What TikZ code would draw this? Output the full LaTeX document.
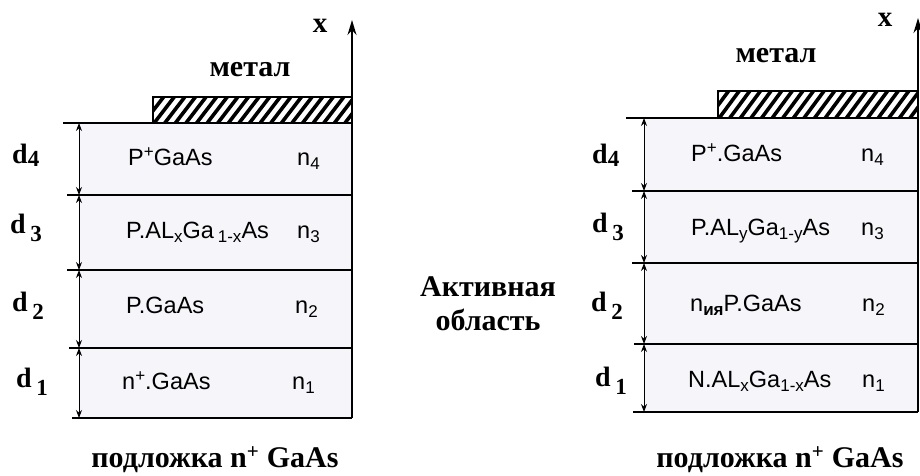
\documentclass[tikz,border=0pt]{standalone}
\usepackage{fontspec}
\setmainfont{Liberation Serif}
\newfontfamily\arial{Liberation Sans}
\usetikzlibrary{arrows.meta}
\definecolor{layerfill}{HTML}{F6F5F9}
\tikzset{
  lay/.style={font=\arial\fontsize{23.5}{26}\selectfont, anchor=base west, inner sep=0pt},
  lbl/.style={font=\bfseries\fontsize{30}{34}\selectfont, inner sep=0pt},
  xlbl/.style={font=\bfseries\fontsize{29}{32}\selectfont, inner sep=0pt},
  dlbl/.style={font=\bfseries\fontsize{28}{32}\selectfont, anchor=base west, inner sep=0pt},
  dimarrow/.style={line width=1pt, {Stealth[length=8pt,width=6pt]}-{Stealth[length=8pt,width=6pt]}},
  layline/.style={line width=1.6pt},
  axisline/.style={line width=1.6pt, -{Stealth[length=15pt,width=9pt]}},
  hatchline/.style={line width=3.6pt},
  metalbox/.style={line width=1.8pt}
}
\newcommand{\lsub}[1]{\raisebox{-4.5pt}{\fontsize{17}{18}\selectfont #1}}
\newcommand{\lsup}[1]{\raisebox{8pt}{\fontsize{17}{18}\selectfont #1}}
\begin{document}
\begin{tikzpicture}[x=1pt,y=-1pt]
\useasboundingbox (0,0) rectangle (920,475);

% ===================== LEFT =====================
\fill[layerfill] (79,123) rectangle (352,418);
\coordinate (La0) at (79,418);
\coordinate (La1) at (79,348);
\coordinate (La2) at (79,270);
\coordinate (La3) at (79,195);
\coordinate (La4) at (79,123);
\coordinate (Lr0) at (352,418);
\coordinate (Lr1) at (352,348);
\coordinate (Lr2) at (352,270);
\coordinate (Lr3) at (352,195);
\coordinate (Lr4) at (352,123);
\coordinate (Ll0) at (72,418);
\coordinate (Ll1) at (69,348);
\coordinate (Ll2) at (67,270);
\coordinate (Ll3) at (67,195);
\coordinate (Ll4) at (63,123);
\coordinate (Ltop) at (352,20);
\foreach \i in {0,...,4} \draw[layline] (Ll\i) -- (Lr\i);
\draw[dimarrow] (La0) -- (La1);
\draw[dimarrow] (La1) -- (La2);
\draw[dimarrow] (La2) -- (La3);
\draw[dimarrow] (La3) -- (La4);
\begin{scope}
  \clip (153,97) rectangle (352,123);
  \foreach \i in {0,...,22} \draw[hatchline] (133+\i*10.6,123) -- ++(20,-26);
\end{scope}
\draw[metalbox] (153,97) rectangle (352,123);
\draw[axisline] (Lr0) -- (Ltop);
\node[xlbl] (Lx) at (320,26) {x};
\node[lbl] (Lmet) at (250,70) {метал};
\node[lay] (L4t) at (128,165) {P\lsup{+}GaAs};
\node[lay] (L4n) at (297,165) {n\lsub{4}};
\node[lay] (L3t) at (126,238) {P.AL\lsub{x}Ga\,\lsub{1-x}As};
\node[lay] (L3n) at (297,238) {n\lsub{3}};
\node[lay] (L2t) at (126,313) {P.GaAs};
\node[lay] (L2n) at (295,313) {n\lsub{2}};
\node[lay] (L1t) at (122,389) {n\lsup{+}.GaAs};
\node[lay] (L1n) at (292,389) {n\lsub{1}};
\node[dlbl] (Ld4) at (12,163) {d\raisebox{-3pt}{\fontsize{23}{26}\selectfont 4}};
\node[dlbl] (Ld3) at (10,233) {d\,\raisebox{-8pt}{\fontsize{23}{26}\selectfont 3}};
\node[dlbl] (Ld2) at (12,311) {d\,\raisebox{-8pt}{\fontsize{23}{26}\selectfont 2}};
\node[dlbl] (Ld1) at (16,387) {d\,\raisebox{-8pt}{\fontsize{23}{26}\selectfont 1}};
\node[lbl] (Lsub) at (215,460) {подложка n\textsuperscript{+} GaAs};

% ===================== RIGHT =====================
\fill[layerfill] (644,118) rectangle (918,412);
\coordinate (Ra0) at (644,412);
\coordinate (Ra1) at (644,344);
\coordinate (Ra2) at (644,263);
\coordinate (Ra3) at (644,191);
\coordinate (Ra4) at (644,118);
\coordinate (Rr0) at (918,412);
\coordinate (Rr1) at (918,344);
\coordinate (Rr2) at (918,263);
\coordinate (Rr3) at (918,191);
\coordinate (Rr4) at (918,118);
\coordinate (Rl0) at (633,412);
\coordinate (Rl1) at (634,344);
\coordinate (Rl2) at (632,263);
\coordinate (Rl3) at (632,191);
\coordinate (Rl4) at (626,118);
\coordinate (Rtop) at (918,18);
\foreach \i in {0,...,4} \draw[layline] (Rl\i) -- (Rr\i);
\draw[dimarrow] (Ra0) -- (Ra1);
\draw[dimarrow] (Ra1) -- (Ra2);
\draw[dimarrow] (Ra2) -- (Ra3);
\draw[dimarrow] (Ra3) -- (Ra4);
\begin{scope}
  \clip (718,91) rectangle (918,118);
  \foreach \i in {0,...,22} \draw[hatchline] (698+\i*10.6,118) -- ++(20,-27);
\end{scope}
\draw[metalbox] (718,91) rectangle (918,118);
\draw[axisline] (Rr0) -- (Rtop);
\node[xlbl] (Rx) at (885,20) {x};
\node[lbl] (Rmet) at (776,56) {метал};
\node[lay] (R4t) at (691,161) {P\lsup{+}.GaAs};
\node[lay] (R4n) at (861,161) {n\lsub{4}};
\node[lay] (R3t) at (691,235) {P.AL\lsub{y}Ga\lsub{1-y}As};
\node[lay] (R3n) at (861,235) {n\lsub{3}};
\node[lay] (R2t) at (690,311) {n\lsub{\bfseries ия}P.GaAs};
\node[lay] (R2n) at (862,311) {n\lsub{2}};
\node[lay] (R1t) at (688,387) {N.AL\lsub{x}Ga\lsub{1-x}As};
\node[lay] (R1n) at (862,387) {n\lsub{1}};
\node[dlbl] (Rd4) at (592,163) {d\raisebox{-3pt}{\fontsize{23}{26}\selectfont 4}};
\node[dlbl] (Rd3) at (592,232) {d\,\raisebox{-8pt}{\fontsize{23}{26}\selectfont 3}};
\node[dlbl] (Rd2) at (591,311) {d\,\raisebox{-8pt}{\fontsize{23}{26}\selectfont 2}};
\node[dlbl] (Rd1) at (595,386) {d\,\raisebox{-8pt}{\fontsize{23}{26}\selectfont 1}};
\node[lbl, align=center] (Act) at (488,304) {Активная\\область};
\node[lbl] (Rsub) at (780,460) {подложка n\textsuperscript{+} GaAs};
\end{tikzpicture}
\end{document}
